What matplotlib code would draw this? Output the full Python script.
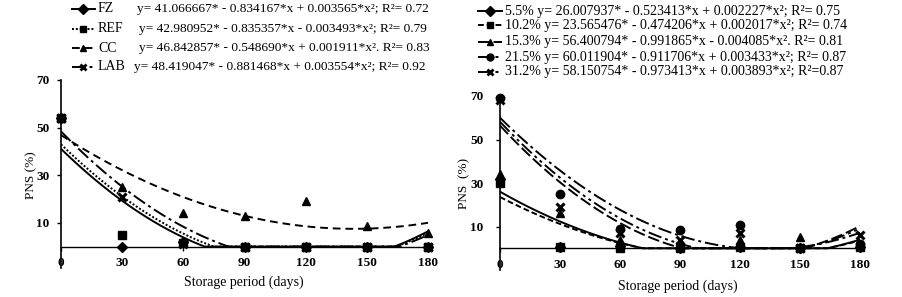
import numpy as np
import matplotlib
matplotlib.use("Agg")
import matplotlib.pyplot as plt
from matplotlib.lines import Line2D

plt.rcParams['font.family'] = ['Liberation Serif', 'DejaVu Serif']

days = [0, 30, 60, 90, 120, 150, 180]

# ---- Left panel ----
left_names = ["FZ", "REF", "CC", "LAB"]
left_eqs = [
    "y= 41.066667* - 0.834167*x + 0.003565*x²; R²= 0.72",
    "y= 42.980952* - 0.835357*x - 0.003493*x²; R²= 0.79",
    "y= 46.842857* - 0.548690*x + 0.001911*x². R²= 0.83",
    "y= 48.419047* - 0.881468*x + 0.003554*x²; R²= 0.92",
]
left_coef = [
    (41.066667, -0.834167, 0.003565),
    (42.980952, -0.835357, 0.003493),
    (46.842857, -0.548690, 0.001911),
    (48.419047, -0.881468, 0.003554),
]
fz = [54, 0, 2, 0, 0, 0, 0]
ref = [54, 5, 1.5, 0, 0, 0, 0]
cc = [54, 25, 14, 13, 19, 8.5, 5.5]
lab = [54, 21, 1, 0, 0, 0, 0]
left_vals = [fz, ref, cc, lab]
left_markers = ["D", "s", "^", "x"]
left_styles = ["-", (0, (1, 1)), (0, (4, 2.5)), (0, (7, 2, 1.5, 2))]

# ---- Right panel ----
right_names = ["5.5%", "10.2%", "15.3%", "21.5%", "31.2%"]
right_eqs = [
    "y= 26.007937* - 0.523413*x + 0.002227*x²; R²= 0.75",
    "y= 23.565476* - 0.474206*x + 0.002017*x²; R²= 0.74",
    "y= 56.400794* - 0.991865*x - 0.004085*x². R²= 0.81",
    "y= 60.011904* - 0.911706*x + 0.003433*x²; R²= 0.87",
    "y= 58.150754* - 0.973413*x + 0.003893*x²; R²=0.87",
]
right_coef = [
    (26.007937, -0.523413, 0.002227),
    (23.565476, -0.474206, 0.002017),
    (56.400794, -0.991865, 0.004085),
    (60.011904, -0.911706, 0.003433),
    (58.150754, -0.973413, 0.003893),
]
p55 = [32, 0.5, 1, 0, 0.5, 0, 0.5]
p102 = [30, 0.5, 0, 0, 0.5, 0, 0.5]
p153 = [34, 16, 4, 2, 4, 5, 1]
p215 = [69, 25, 9, 8.5, 10.5, 0, 2]
p312 = [68, 19, 7, 4, 7, 0, 6]
right_vals = [p55, p102, p153, p215, p312]
right_markers = ["D", "s", "^", "o", "x"]
right_styles = ["-", (0, (3, 1.5)), (0, (6, 2)), (0, (7, 2, 1.5, 2)), (0, (7, 2, 1.5, 2, 1.5, 2))]

fig = plt.figure(figsize=(9.03, 2.97), dpi=100)
W, H = 903, 297


def make_ax(l, r, top, bottom, ymin):
    ax = fig.add_axes([l / W, (H - bottom) / H, (r - l) / W, (bottom - top) / H])
    ax.set_xlim(0, 180)
    ax.set_ylim(ymin, 70)
    ax.spines['top'].set_visible(False)
    ax.spines['right'].set_visible(False)
    ax.spines['bottom'].set_position(('data', 0))
    ax.spines['left'].set_linewidth(1.2)
    ax.spines['bottom'].set_linewidth(1.0)
    ax.set_xticks(days)
    ax.set_yticks([10, 30, 50, 70])
    ax.tick_params(axis='both', direction='out', length=3, width=1, labelsize=9.5)
    ax.tick_params(axis='x', pad=4.5)
    for t in ax.get_xticklabels() + ax.get_yticklabels():
        t.set_fontweight('bold')
    ax.patch.set_alpha(0)
    return ax


def draw(ax, coefs, vals, markers, styles):
    xs = np.linspace(0, 180, 400)
    for (a, b, c), v, m, ls in zip(coefs, vals, markers, styles):
        y = np.clip(a + b * xs + c * xs ** 2, 0, None)
        ax.plot(xs, y, color='black', lw=1.4, linestyle=ls, zorder=2)
        if m == 'x':
            ax.plot(days, v, linestyle='none', marker=m, color='black', ms=6, mew=2.2,
                    clip_on=False, zorder=3)
        elif m == 'D':
            ax.plot(days, v, linestyle='none', marker=m, color='black', ms=5,
                    clip_on=False, zorder=3)
        else:
            ax.plot(days, v, linestyle='none', marker=m, color='black', ms=6,
                    clip_on=False, zorder=3)


axL = make_ax(61, 428, 80, 268, -9)
draw(axL, left_coef, left_vals, left_markers, left_styles)
axL.tick_params(axis='y', pad=5.5)
axL.set_ylabel("PNS (%)", fontsize=9.5)
axL.yaxis.set_label_coords(37 / W, (H - 175) / H, transform=fig.transFigure)
axL.set_xlabel("Storage period (days)", fontsize=10)
axL.xaxis.set_label_coords(244 / W, (H - 276) / H, transform=fig.transFigure)

axR = make_ax(500, 860, 96, 270, -10)
draw(axR, right_coef, right_vals, right_markers, right_styles)
axR.tick_params(axis='y', pad=9)
axR.set_ylabel("PNS  (%)", fontsize=9.5)
axR.yaxis.set_label_coords(470 / W, (H - 183) / H, transform=fig.transFigure)
axR.set_xlabel("Storage period (days)", fontsize=10)
axR.xaxis.set_label_coords(678 / W, (H - 280) / H, transform=fig.transFigure)


def legend_row(x0, x1, y, marker, ls, name, eq, name_x, eq_x, fs):
    yf = (H - y) / H
    fig.add_artist(Line2D([x0 / W, x1 / W], [yf, yf], transform=fig.transFigure,
                          color='black', lw=1.4, linestyle=ls))
    mew = 2.0 if marker == 'x' else 1
    fig.add_artist(Line2D([(x0 + x1) / 2 / W], [yf], transform=fig.transFigure,
                          color='black', marker=marker, ms=5, mew=mew, linestyle='none'))
    fig.text(name_x / W, yf, name, fontsize=fs, va='center', ha='left')
    if eq is not None:
        fig.text(eq_x / W, yf, eq, fontsize=9.6, va='center', ha='left')


left_rows_y = [9, 29, 48, 67]
left_eq_x = [137, 139, 139, 134]
for y, m, ls, n, e, ex in zip(left_rows_y, left_markers, left_styles, left_names, left_eqs, left_eq_x):
    legend_row(72, 95, y, m, ls, n, e, 98, ex, 10)

right_rows_y = [11, 25, 42, 57, 72]
for y, m, ls, n, e in zip(right_rows_y, right_markers, right_styles, right_names, right_eqs):
    legend_row(478, 502, y, m, ls, n + " " + e, None, 505, None, 10)

fig.savefig("out.png", dpi=100)
